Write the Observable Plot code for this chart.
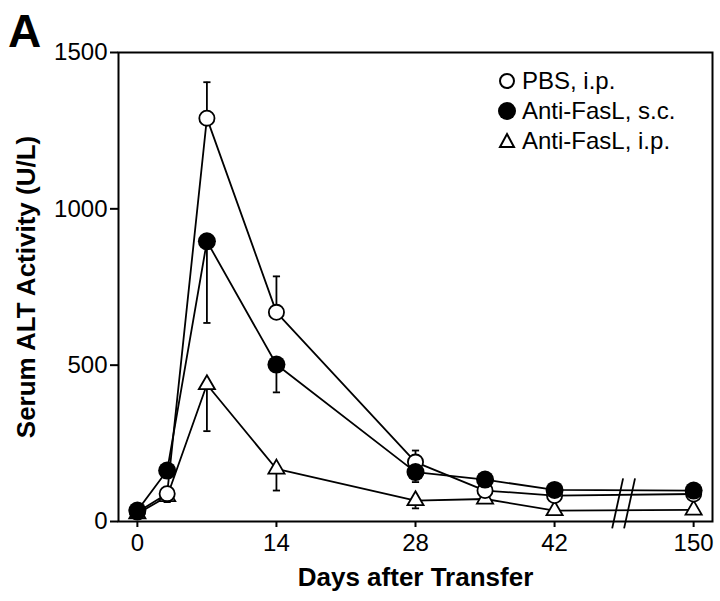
<!DOCTYPE html>
<html><head><meta charset="utf-8">
<script src="https://cdn.jsdelivr.net/npm/d3@7"></script>
<script src="https://cdn.jsdelivr.net/npm/@observablehq/plot@0.6"></script>
<style>
body{margin:0;background:#fff;font-family:"Liberation Sans",Arial,Helvetica,sans-serif;}
#wrap{position:relative;width:720px;height:601px;}
#panel{position:absolute;left:8px;top:4px;font-size:46px;line-height:1.2;font-weight:bold;color:#000;}
#legend{position:absolute;left:497px;top:66px;font-size:24px;color:#000;line-height:30px;}
#legend .row{display:flex;align-items:center;height:30px;}
#legend svg{margin-right:5px;}
</style></head><body>
<div id="wrap"><div id="chart"></div><div id="panel">A</div><div id="legend"></div></div>
<script>
// ---- data ----
const days = [0, 3, 7, 14, 28, 35, 42, 150];
const seriesNames = ["PBS, i.p.", "Anti-FasL, s.c.", "Anti-FasL, i.p."];
const pbsMean = [30, 89, 1290, 669, 190, 99, 83, 88];
const pbsErrEnd = [35, 100, 1405, 784, 227, 105, 90, 95];   // error bars drawn upward
const scMean = [35, 163, 896, 502, 158, 134, 101, 99];
const scErrEnd = [30, 150, 635, 413, 126, 125, 95, 93];    // drawn downward
const ipMean = [25, 80, 438, 168, 67, 72, 35, 37];
const ipErrEnd = [20, 62, 289, 99, 42, 65, 30, 30];        // drawn downward
const xTickValues = [0, 14, 28, 42, 150];
const yTickValues = [0, 500, 1000, 1500];
// broken axis: day 150 is drawn one 14-day step after 42
const brokenDay = 150, brokenPos = 56, breakAt = 49;

const xp = d => d === brokenDay ? brokenPos : d;
const make = (name, mean, err) => days.map((d, i) => ({s: name, x: xp(d), v: mean[i], e: err[i]}));
const pbs = make(seriesNames[0], pbsMean, pbsErrEnd);
const sc = make(seriesNames[1], scMean, scErrEnd);
const ip = make(seriesNames[2], ipMean, ipErrEnd);
const all = [...pbs, ...sc, ...ip];

const cap = {draw(ctx, size) { const w = Math.sqrt(size / Math.PI); ctx.moveTo(-w, 0); ctx.lineTo(w, 0); }};
const breakMarks = [0, 1].map(k => ({x1: breakAt - 1.2 + k * 1.2, y1: -22, x2: breakAt - 0.1 + k * 1.2, y2: 138}));

const chart = Plot.plot({
  width: 720, height: 601,
  marginLeft: 118, marginRight: 8, marginTop: 52, marginBottom: 80,
  style: {fontFamily: "Liberation Sans, Arial, sans-serif", color: "#000", background: "#fff"},
  x: {domain: [-1.9, 57.9]},
  y: {domain: [0, 1500]},
  marks: [
    Plot.line(all, {x: "x", y: "v", z: "s", stroke: "#000", strokeWidth: 1.8}),
    Plot.link(breakMarks, {x1: "x1", y1: "y1", x2: "x2", y2: "y2", stroke: "#000", strokeWidth: 1.8, clip: false}),
    Plot.ruleX(all, {x: "x", y1: "v", y2: "e", stroke: "#000", strokeWidth: 1.8}),
    Plot.dot(all, {x: "x", y: "e", symbol: cap, r: 3.6, fill: "none", stroke: "#000", strokeWidth: 1.8}),
    Plot.dot(ip, {x: "x", y: "v", symbol: "triangle", r: 6, fill: "#fff", stroke: "#000", strokeWidth: 1.8}),
    Plot.dot(pbs, {x: "x", y: "v", r: 7.6, fill: "#fff", stroke: "#000", strokeWidth: 1.8}),
    Plot.dot(sc, {x: "x", y: "v", r: 9, fill: "#000", stroke: "none"}),
    Plot.frame({stroke: "#000", strokeWidth: 2}),
    Plot.axisX({ticks: xTickValues.map(xp), tickFormat: d => d === brokenPos ? String(brokenDay) : String(d),
      tickSize: 6, tickPadding: 6, fontSize: 24, strokeWidth: 2, label: null}),
    Plot.axisY({ticks: yTickValues, tickFormat: d => String(d), tickSize: 8, tickPadding: 3, fontSize: 24, strokeWidth: 2, label: null}),
    Plot.text(["Days after Transfer"], {frameAnchor: "bottom", dy: 64, fontSize: 26, fontWeight: "bold", fill: "#000"}),
    Plot.text(["Serum ALT Activity (U/L)"], {frameAnchor: "left", textAnchor: "middle", rotate: -90, dx: -92, fontSize: 26, fontWeight: "bold", fill: "#000"})
  ]
});
document.getElementById("chart").appendChild(chart);

// legend
const sym = [
  '<svg width="20" height="20"><circle cx="10" cy="10" r="7" fill="#fff" stroke="#000" stroke-width="2"/></svg>',
  '<svg width="20" height="20"><circle cx="10" cy="10" r="9" fill="#000"/></svg>',
  '<svg width="20" height="20"><path d="M10 3 L17 16 L3 16 Z" fill="#fff" stroke="#000" stroke-width="2"/></svg>'
];
document.getElementById("legend").innerHTML = seriesNames.map((n, i) => `<div class="row">${sym[i]}<span>${n}</span></div>`).join("");
</script>
</body></html>
